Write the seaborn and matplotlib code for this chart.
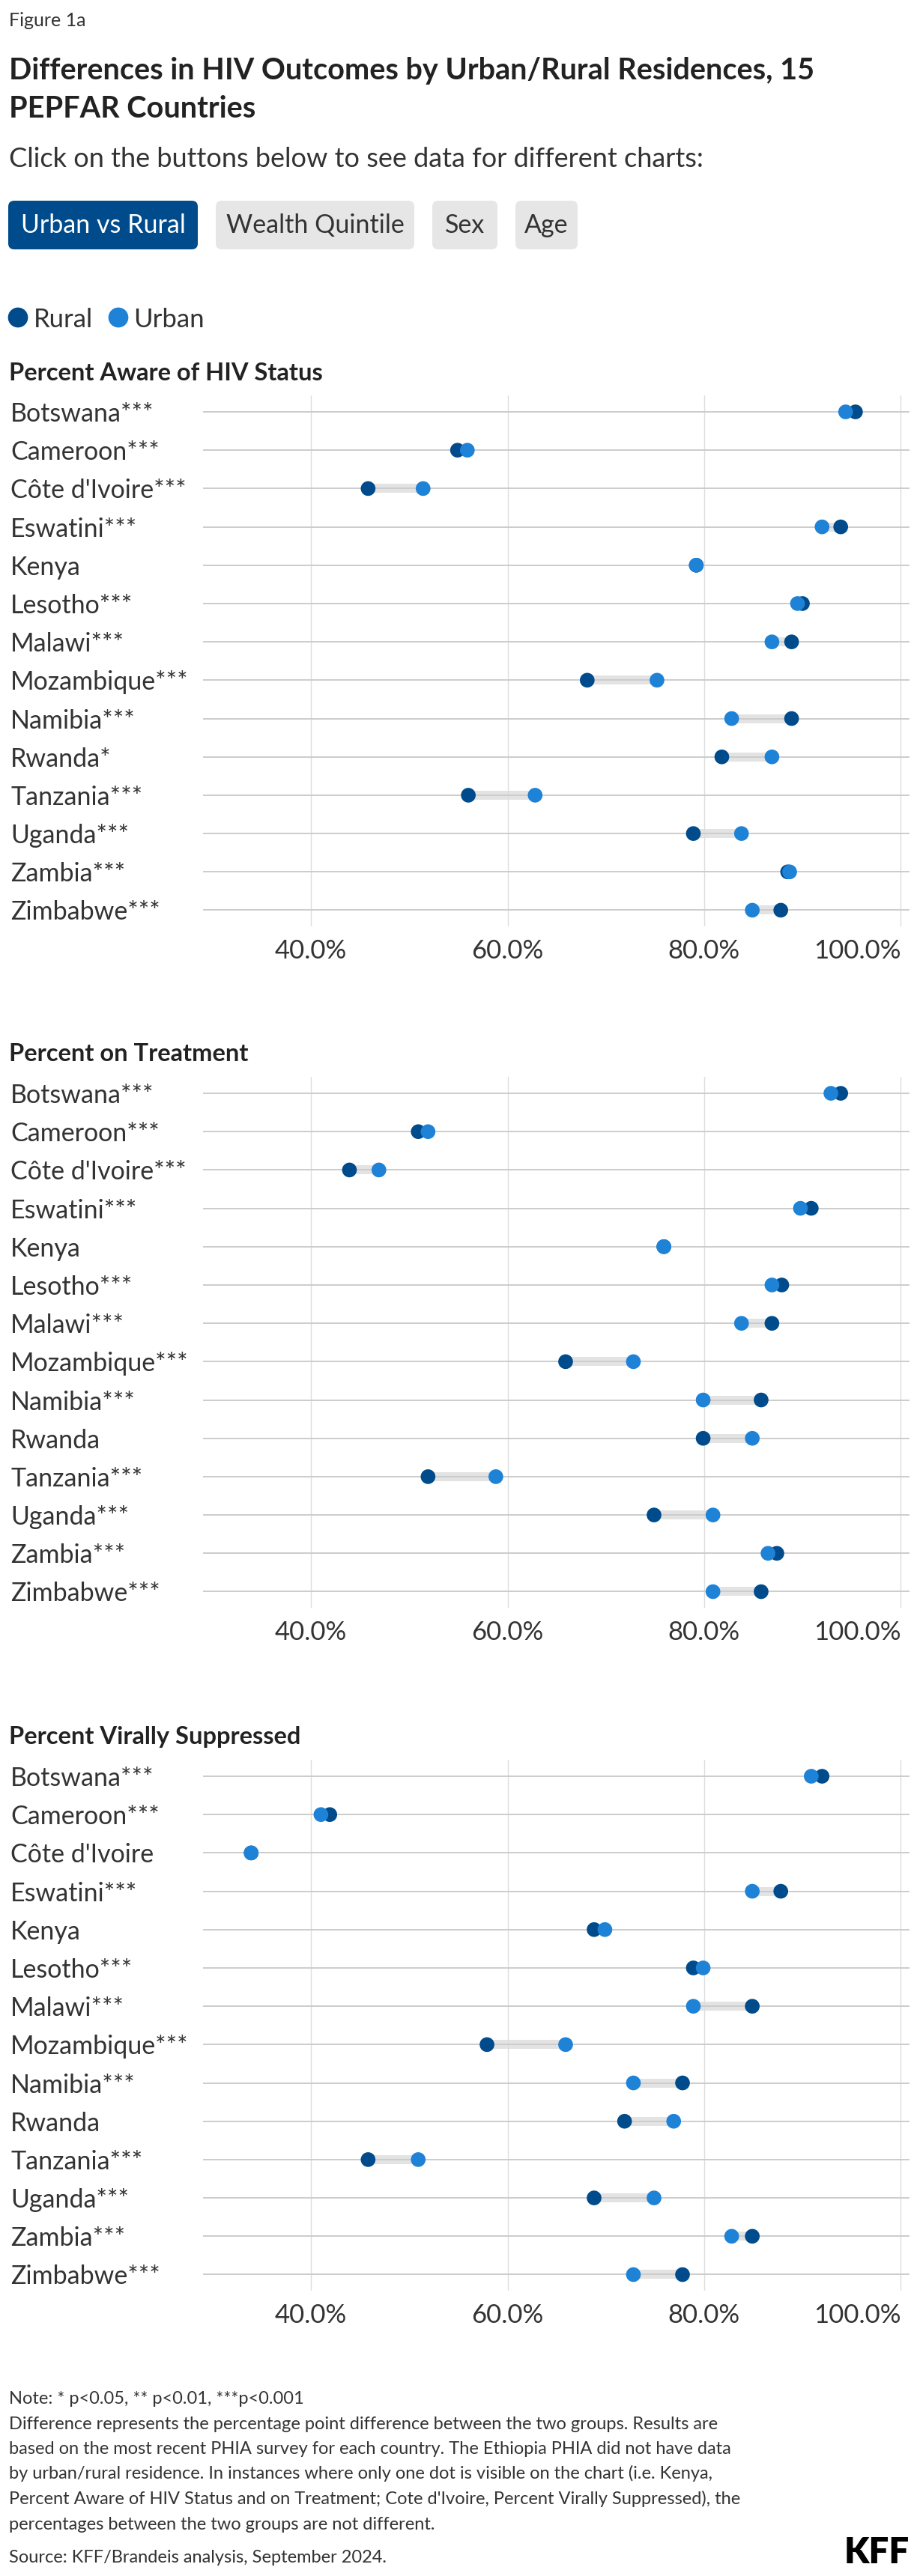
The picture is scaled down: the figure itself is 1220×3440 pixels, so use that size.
import numpy as np
import pandas as pd
import matplotlib
matplotlib.use("Agg")
import matplotlib.pyplot as plt
import seaborn as sns
from matplotlib.patches import FancyBboxPatch
from matplotlib.ticker import FuncFormatter

# --- data ---
countries = ["Botswana", "Cameroon", "Côte d'Ivoire", "Eswatini", "Kenya", "Lesotho", "Malawi",
             "Mozambique", "Namibia", "Rwanda", "Tanzania", "Uganda", "Zambia", "Zimbabwe"]

aware_sig = ["***", "***", "***", "***", "", "***", "***", "***", "***", "*", "***", "***", "***", "***"]
aware_rural = [95.4, 54.9, 45.8, 93.9, 79.2, 90.0, 88.9, 68.1, 88.9, 81.8, 56.0, 78.9, 88.5, 87.8]
aware_urban = [94.4, 55.9, 51.4, 92.0, 79.2, 89.5, 86.9, 75.2, 82.8, 86.9, 62.8, 83.8, 88.7, 84.9]

treat_sig = ["***", "***", "***", "***", "", "***", "***", "***", "***", "", "***", "***", "***", "***"]
treat_rural = [93.9, 50.9, 43.9, 90.9, 75.9, 87.9, 86.9, 65.9, 85.8, 79.9, 51.9, 74.9, 87.4, 85.8]
treat_urban = [92.9, 51.9, 46.9, 89.8, 75.9, 86.9, 83.8, 72.8, 79.9, 84.9, 58.8, 80.9, 86.5, 80.9]

vls_sig = ["***", "***", "", "***", "", "***", "***", "***", "***", "", "***", "***", "***", "***"]
vls_rural = [92.0, 41.9, 33.9, 87.8, 68.8, 78.9, 84.9, 57.9, 77.8, 71.9, 45.8, 68.8, 84.9, 77.8]
vls_urban = [90.9, 41.0, 33.9, 84.9, 69.9, 79.9, 78.9, 65.9, 72.8, 76.9, 50.9, 74.9, 82.8, 72.8]

panels = [
    ("Percent Aware of HIV Status", aware_sig, aware_rural, aware_urban),
    ("Percent on Treatment", treat_sig, treat_rural, treat_urban),
    ("Percent Virally Suppressed", vls_sig, vls_rural, vls_urban),
]

RURAL = "#004b8c"
URBAN = "#1e82d7"
TXT = "#333333"

sns.set_theme(style="white")
plt.rcParams["font.family"] = ["Lato", "DejaVu Sans"]

W, H = 1220, 3440
fig = plt.figure(figsize=(W / 100, H / 100), dpi=100)
fig.patch.set_facecolor("white")

# overlay in pixel coords for header / footer
ov = fig.add_axes([0, 0, 1, 1])
ov.set_xlim(0, W)
ov.set_ylim(H, 0)
ov.axis("off")
ov.patch.set_alpha(0)

ov.text(12, 35, "Figure 1a", fontsize=18, color=TXT, va="baseline")
ov.text(12, 106, "Differences in HIV Outcomes by Urban/Rural Residences, 15",
        fontsize=28.5, fontweight="bold", color="#222222", va="baseline")
ov.text(12, 157, "PEPFAR Countries", fontsize=28.5, fontweight="bold", color="#222222", va="baseline")
ov.text(12, 223, "Click on the buttons below to see data for different charts:",
        fontsize=26, color=TXT, va="baseline")

# buttons
buttons = [("Urban vs Rural", 11, 264, True), ("Wealth Quintile", 288, 553, False),
           ("Sex", 577, 664, False), ("Age", 688, 771, False)]
for label, x0, x1, active in buttons:
    ov.add_patch(FancyBboxPatch((x0, 268), x1 - x0, 65, boxstyle="round,pad=0,rounding_size=8",
                                fc=RURAL if active else "#e6e6e6", ec="none"))
    ov.text((x0 + x1) / 2, 301, label, fontsize=24.5, color="white" if active else TXT,
            ha="center", va="center")

# legend
ov.scatter([24, 158], [424, 424], s=370, c=[RURAL, URBAN], linewidths=0)
ov.text(45, 437, "Rural", fontsize=25, color=TXT, va="baseline")
ov.text(178, 437, "Urban", fontsize=25, color=TXT, va="baseline")

# panels
tops = [528, 1438, 2350]
title_base = [508, 1417, 2329]
ax_left, ax_right, ax_h = 271, 1214, 709
rows = np.arange(len(countries))

for (title, sig, rural, urban), top, tb in zip(panels, tops, title_base):
    ax = fig.add_axes([ax_left / W, 1 - (top + ax_h) / H, (ax_right - ax_left) / W, ax_h / H])
    ov.text(12, tb, title, fontsize=23.5, fontweight="bold", color="#222222", va="baseline")

    df = pd.DataFrame({
        "Row": np.concatenate([rows, rows]),
        "Value": rural + urban,
        "Group": ["Rural"] * len(rows) + ["Urban"] * len(rows),
    })

    # gap bar between the two groups
    lo = np.minimum(rural, urban)
    hi = np.maximum(rural, urban)
    ax.hlines(rows, lo, hi, color="#e3e3e3", lw=8.6, zorder=0.4)

    sns.scatterplot(data=df, x="Value", y="Row", hue="Group",
                    palette={"Rural": RURAL, "Urban": URBAN},
                    s=200, linewidth=0, legend=False, ax=ax, zorder=3)

    ax.set_xlim(29, 100.9)
    ax.set_ylim(len(rows) - 1 + 0.42, -0.43)
    ax.set_xticks([40, 60, 80, 100])
    ax.xaxis.set_major_formatter(FuncFormatter(lambda v, p: f"{v:.1f}%"))
    ax.set_yticks(rows)
    ax.set_yticklabels([c + s for c, s in zip(countries, sig)], ha="left")
    ax.set_xlabel("")
    ax.set_ylabel("")
    ax.tick_params(axis="y", length=0, pad=185, labelsize=24.5, labelcolor=TXT)
    ax.tick_params(axis="x", length=0, pad=12, labelsize=25, labelcolor=TXT)
    ax.xaxis.grid(True, color="#dddddd", lw=1)
    ax.yaxis.grid(True, color="#cccccc", lw=1.4)
    ax.set_axisbelow(True)
    for sp in ax.spines.values():
        sp.set_visible(False)
    ax.patch.set_alpha(0)
    ax.xaxis.get_major_ticks()[-1].label1.set_horizontalalignment("right")

# footer
notes = [
    "Note: * p<0.05, ** p<0.01, ***p<0.001",
    "Difference represents the percentage point difference between the two groups. Results are",
    "based on the most recent PHIA survey for each country. The Ethiopia PHIA did not have data",
    "by urban/rural residence. In instances where only one dot is visible on the chart (i.e. Kenya,",
    "Percent Aware of HIV Status and on Treatment; Cote d'Ivoire, Percent Virally Suppressed), the",
    "percentages between the two groups are not different.",
]
for i, line in enumerate(notes):
    ov.text(12, 3210 + i * 33.5, line, fontsize=17, color=TXT, va="baseline")
ov.text(12, 3422, "Source: KFF/Brandeis analysis, September 2024.", fontsize=17, color=TXT, va="baseline")
ov.text(1214, 3423, "KFF", fontsize=34, fontweight="heavy", color="black", ha="right", va="baseline")

fig.savefig("out.png", dpi=100, facecolor="white")
